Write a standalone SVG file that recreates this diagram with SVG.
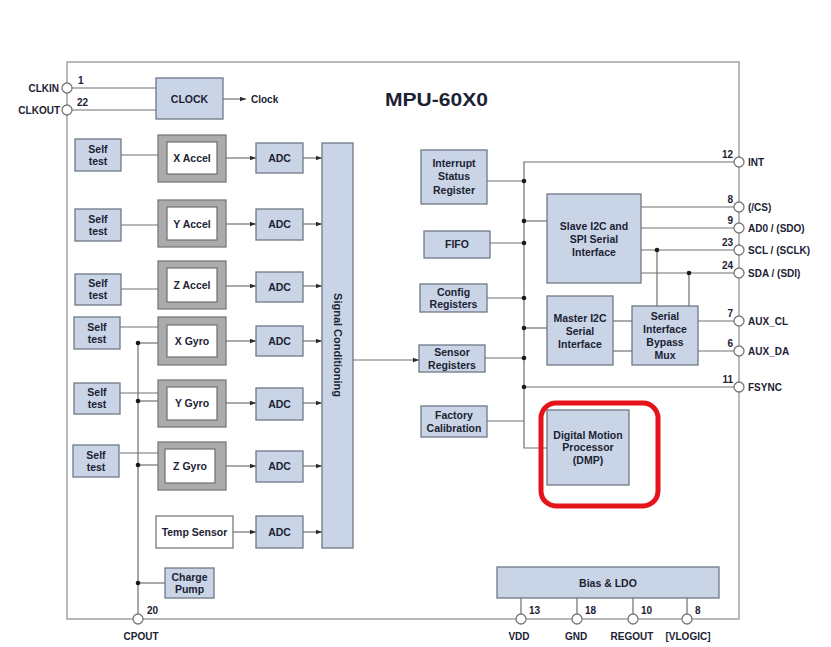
<svg xmlns="http://www.w3.org/2000/svg" width="831" height="647" viewBox="0 0 831 647">
<defs>
<marker id="arr" markerWidth="6" markerHeight="5" refX="6" refY="2.5" orient="auto" markerUnits="userSpaceOnUse">
<path d="M0,0.3 L6,2.5 L0,4.7 Z" fill="#2a2a2a"/>
</marker>
</defs>
<style>
.blk{fill:#c9d5e6;stroke:#6f7885;stroke-width:1.3}
.sen{fill:#ababab;stroke:#7a7a7a;stroke-width:1.3}
.inr{fill:#ffffff;stroke:#6f6f6f;stroke-width:1.2}
.wht{fill:#ffffff;stroke:#6f6f6f;stroke-width:1.2}
.ln{fill:none;stroke:#707070;stroke-width:1.2}
.pin{fill:#ffffff;stroke:#777777;stroke-width:1.3}
.dot{fill:#1a1a1a}
text{font-family:"Liberation Sans",Arial,sans-serif;font-weight:bold;fill:#1c2233;font-size:10.5px}
.c{text-anchor:middle}
.e{text-anchor:end}
.pn{font-size:10px}
.pl{font-size:10px}
.title{font-size:18px}
.sc{font-size:11px}
</style>
<rect width="831" height="647" fill="#ffffff"/>
<rect x="67" y="62" width="672" height="557" fill="none" stroke="#a3a3a3" stroke-width="1.5"/>
<text class="title" x="385" y="106" textLength="103" lengthAdjust="spacingAndGlyphs">MPU-60X0</text>

<g id="connectors">
<line class="ln" x1="72" y1="88" x2="156" y2="88"/>
<line class="ln" x1="72" y1="110" x2="156" y2="110"/>
<line class="ln" x1="223" y1="99" x2="246" y2="99" marker-end="url(#arr)"/>
<line class="ln" x1="121" y1="155" x2="158" y2="155"/>
<line class="ln" x1="121" y1="225" x2="158" y2="225"/>
<line class="ln" x1="121" y1="289" x2="158" y2="289"/>
<line class="ln" x1="120" y1="327" x2="158" y2="327"/>
<line class="ln" x1="120" y1="393" x2="158" y2="393"/>
<line class="ln" x1="120" y1="453" x2="158" y2="453"/>
<line class="ln" x1="138" y1="343" x2="158" y2="343"/>
<line class="ln" x1="138" y1="401" x2="158" y2="401"/>
<line class="ln" x1="138" y1="465" x2="158" y2="465"/>
<line class="ln" x1="138" y1="583" x2="165" y2="583"/>
<line class="ln" x1="138" y1="343" x2="138" y2="614"/>
<circle class="dot" cx="138" cy="343" r="2.3"/>
<circle class="dot" cx="138" cy="401" r="2.3"/>
<circle class="dot" cx="138" cy="465" r="2.3"/>
<circle class="dot" cx="138" cy="583" r="2.3"/>
<line class="ln" x1="226" y1="158" x2="256" y2="158" marker-end="url(#arr)"/>
<line class="ln" x1="226" y1="224" x2="256" y2="224" marker-end="url(#arr)"/>
<line class="ln" x1="226" y1="286" x2="256" y2="286" marker-end="url(#arr)"/>
<line class="ln" x1="226" y1="341" x2="256" y2="341" marker-end="url(#arr)"/>
<line class="ln" x1="226" y1="403" x2="256" y2="403" marker-end="url(#arr)"/>
<line class="ln" x1="226" y1="466" x2="256" y2="466" marker-end="url(#arr)"/>
<line class="ln" x1="233" y1="532" x2="256" y2="532" marker-end="url(#arr)"/>
<line class="ln" x1="303" y1="158" x2="322" y2="158" marker-end="url(#arr)"/>
<line class="ln" x1="303" y1="224" x2="322" y2="224" marker-end="url(#arr)"/>
<line class="ln" x1="303" y1="286" x2="322" y2="286" marker-end="url(#arr)"/>
<line class="ln" x1="303" y1="341" x2="322" y2="341" marker-end="url(#arr)"/>
<line class="ln" x1="303" y1="403" x2="322" y2="403" marker-end="url(#arr)"/>
<line class="ln" x1="303" y1="466" x2="322" y2="466" marker-end="url(#arr)"/>
<line class="ln" x1="303" y1="532" x2="322" y2="532" marker-end="url(#arr)"/>
<line class="ln" x1="353" y1="360" x2="419" y2="360" marker-end="url(#arr)"/>
<polyline class="ln" points="734,162 524,162 524,448 547,448"/>
<line class="ln" x1="487" y1="181" x2="524" y2="181"/>
<line class="ln" x1="524" y1="221" x2="547" y2="221"/>
<line class="ln" x1="490" y1="243" x2="524" y2="243"/>
<line class="ln" x1="487" y1="298" x2="524" y2="298"/>
<line class="ln" x1="524" y1="328" x2="547" y2="328"/>
<line class="ln" x1="485" y1="358" x2="524" y2="358"/>
<line class="ln" x1="524" y1="387" x2="734" y2="387"/>
<line class="ln" x1="487" y1="421" x2="524" y2="421"/>
<circle class="dot" cx="524" cy="181" r="2.3"/>
<circle class="dot" cx="524" cy="221" r="2.3"/>
<circle class="dot" cx="524" cy="243" r="2.3"/>
<circle class="dot" cx="524" cy="298" r="2.3"/>
<circle class="dot" cx="524" cy="328" r="2.3"/>
<circle class="dot" cx="524" cy="358" r="2.3"/>
<circle class="dot" cx="524" cy="387" r="2.3"/>
<line class="ln" x1="641" y1="207" x2="734" y2="207"/>
<line class="ln" x1="641" y1="228" x2="734" y2="228"/>
<line class="ln" x1="641" y1="250" x2="734" y2="250"/>
<line class="ln" x1="641" y1="273" x2="734" y2="273"/>
<line class="ln" x1="657" y1="250" x2="657" y2="306"/>
<line class="ln" x1="689" y1="273" x2="689" y2="306"/>
<circle class="dot" cx="657" cy="250" r="2.3"/>
<circle class="dot" cx="689" cy="273" r="2.3"/>
<line class="ln" x1="613" y1="321" x2="632" y2="321"/>
<line class="ln" x1="613" y1="351" x2="632" y2="351"/>
<line class="ln" x1="698" y1="321" x2="734" y2="321"/>
<line class="ln" x1="698" y1="351" x2="734" y2="351"/>
<line class="ln" x1="521" y1="598" x2="521" y2="614"/>
<line class="ln" x1="577" y1="598" x2="577" y2="614"/>
<line class="ln" x1="633" y1="598" x2="633" y2="614"/>
<line class="ln" x1="687" y1="598" x2="687" y2="614"/>
</g>

<g id="clock"><rect class="blk" x="156" y="78" width="67" height="41"/><text class="c" x="189.5" y="103">CLOCK</text></g>
<text class="pl" x="251" y="103">Clock</text>

<g id="selftest1"><rect class="blk" x="75" y="139" width="46" height="32"/><text class="c" x="98" y="153">Self</text><text class="c" x="98" y="165">test</text></g>
<g id="selftest2"><rect class="blk" x="75" y="209" width="46" height="32"/><text class="c" x="98" y="223">Self</text><text class="c" x="98" y="235">test</text></g>
<g id="selftest3"><rect class="blk" x="75" y="274" width="46" height="31"/><text class="c" x="98" y="287">Self</text><text class="c" x="98" y="299">test</text></g>
<g id="selftest4"><rect class="blk" x="74" y="317" width="46" height="32"/><text class="c" x="97" y="331">Self</text><text class="c" x="97" y="343">test</text></g>
<g id="selftest5"><rect class="blk" x="74" y="383" width="46" height="31"/><text class="c" x="97" y="396">Self</text><text class="c" x="97" y="408">test</text></g>
<g id="selftest6"><rect class="blk" x="73" y="445" width="46" height="32"/><text class="c" x="96" y="459">Self</text><text class="c" x="96" y="471">test</text></g>

<g id="xaccel"><rect class="sen" x="158" y="135" width="68" height="47"/><rect class="inr" x="167" y="142" width="50" height="32"/><text class="c" x="192" y="162">X Accel</text></g>
<g id="yaccel"><rect class="sen" x="158" y="200" width="68" height="47"/><rect class="inr" x="167" y="207" width="50" height="33"/><text class="c" x="192" y="228">Y Accel</text></g>
<g id="zaccel"><rect class="sen" x="158" y="261" width="68" height="48"/><rect class="inr" x="167" y="268" width="50" height="34"/><text class="c" x="192" y="289">Z Accel</text></g>
<g id="xgyro"><rect class="sen" x="158" y="317" width="68" height="48"/><rect class="inr" x="167" y="325" width="50" height="32"/><text class="c" x="192" y="345">X Gyro</text></g>
<g id="ygyro"><rect class="sen" x="158" y="380" width="68" height="47"/><rect class="inr" x="167" y="387" width="50" height="33"/><text class="c" x="192" y="407">Y Gyro</text></g>
<g id="zgyro"><rect class="sen" x="158" y="442" width="68" height="48"/><rect class="inr" x="165" y="449" width="50" height="34"/><text class="c" x="190" y="470">Z Gyro</text></g>
<g id="temp"><rect class="wht" x="156" y="516" width="77" height="32"/><text class="c" x="194.5" y="536">Temp Sensor</text></g>
<g id="chargepump"><rect class="blk" x="165" y="568" width="49" height="30"/><text class="c" x="189.5" y="581">Charge</text><text class="c" x="189.5" y="593">Pump</text></g>

<g id="adc1"><rect class="blk" x="256" y="143" width="47" height="30"/><text class="c" x="279.5" y="162">ADC</text></g>
<g id="adc2"><rect class="blk" x="256" y="209" width="47" height="31"/><text class="c" x="279.5" y="228">ADC</text></g>
<g id="adc3"><rect class="blk" x="256" y="272" width="47" height="30"/><text class="c" x="279.5" y="291">ADC</text></g>
<g id="adc4"><rect class="blk" x="256" y="326" width="47" height="30"/><text class="c" x="279.5" y="345">ADC</text></g>
<g id="adc5"><rect class="blk" x="256" y="388" width="47" height="32"/><text class="c" x="279.5" y="408">ADC</text></g>
<g id="adc6"><rect class="blk" x="256" y="451" width="47" height="31"/><text class="c" x="279.5" y="470">ADC</text></g>
<g id="adc7"><rect class="blk" x="256" y="516" width="47" height="32"/><text class="c" x="279.5" y="536">ADC</text></g>

<g id="signalcond"><rect class="blk" x="322" y="143" width="31" height="405"/><text class="c sc" transform="translate(333.5,345) rotate(90)">Signal Conditioning</text></g>

<g id="isr"><rect class="blk" x="421" y="150" width="66" height="54"/><text class="c" x="454" y="167">Interrupt</text><text class="c" x="454" y="180">Status</text><text class="c" x="454" y="194">Register</text></g>
<g id="fifo"><rect class="blk" x="424" y="231" width="66" height="27"/><text class="c" x="457" y="248">FIFO</text></g>
<g id="config"><rect class="blk" x="420" y="284" width="67" height="28"/><text class="c" x="453.5" y="296">Config</text><text class="c" x="453.5" y="308">Registers</text></g>
<g id="sensorreg"><rect class="blk" x="419" y="345" width="66" height="27"/><text class="c" x="452" y="356">Sensor</text><text class="c" x="452" y="369">Registers</text></g>
<g id="factorycal"><rect class="blk" x="421" y="406" width="66" height="31"/><text class="c" x="454" y="419">Factory</text><text class="c" x="454" y="432">Calibration</text></g>

<g id="slave"><rect class="blk" x="547" y="194" width="94" height="89"/><text class="c" x="594" y="230">Slave I2C and</text><text class="c" x="594" y="243">SPI Serial</text><text class="c" x="594" y="256">Interface</text></g>
<g id="master"><rect class="blk" x="547" y="296" width="66" height="69"/><text class="c" x="580" y="322">Master I2C</text><text class="c" x="580" y="335">Serial</text><text class="c" x="580" y="348">Interface</text></g>
<g id="mux"><rect class="blk" x="632" y="306" width="66" height="59"/><text class="c" x="665" y="320">Serial</text><text class="c" x="665" y="333">Interface</text><text class="c" x="665" y="346">Bypass</text><text class="c" x="665" y="359">Mux</text></g>
<g id="dmp"><rect class="blk" x="547" y="410" width="82" height="75"/><text class="c" x="588" y="439">Digital Motion</text><text class="c" x="588" y="451">Processor</text><text class="c" x="588" y="464">(DMP)</text></g>
<rect x="541" y="403" width="117" height="103" rx="15" fill="none" stroke="#e5141b" stroke-width="5"/>
<g id="bias"><rect class="blk" x="497" y="567" width="222" height="31"/><text class="c" x="608" y="587">Bias &amp; LDO</text></g>

<g id="pin-clkin"><circle class="pin" cx="67" cy="88" r="5"/><text class="e pl" x="59" y="92">CLKIN</text><text class="pn" x="78" y="84">1</text></g>
<g id="pin-clkout"><circle class="pin" cx="67" cy="110" r="5"/><text class="e pl" x="60" y="114">CLKOUT</text><text class="pn" x="77" y="106">22</text></g>
<g id="pin-cpout"><circle class="pin" cx="138" cy="619" r="5"/><text class="pn" x="147" y="614">20</text><text class="c pl" x="141" y="640">CPOUT</text></g>
<g id="pin-int"><circle class="pin" cx="739" cy="162" r="5"/><text class="e pn" x="733" y="158">12</text><text class="pl" x="748" y="166">INT</text></g>
<g id="pin-cs"><circle class="pin" cx="739" cy="207" r="5"/><text class="e pn" x="733" y="203">8</text><text class="pl" x="748" y="211">(/CS)</text></g>
<g id="pin-ad0"><circle class="pin" cx="739" cy="228" r="5"/><text class="e pn" x="733" y="224">9</text><text class="pl" x="748" y="232">AD0 / (SDO)</text></g>
<g id="pin-scl"><circle class="pin" cx="739" cy="250" r="5"/><text class="e pn" x="733" y="246">23</text><text class="pl" x="748" y="254">SCL / (SCLK)</text></g>
<g id="pin-sda"><circle class="pin" cx="739" cy="273" r="5"/><text class="e pn" x="733" y="269">24</text><text class="pl" x="748" y="277">SDA / (SDI)</text></g>
<g id="pin-auxcl"><circle class="pin" cx="739" cy="321" r="5"/><text class="e pn" x="733" y="317">7</text><text class="pl" x="748" y="325">AUX_CL</text></g>
<g id="pin-auxda"><circle class="pin" cx="739" cy="351" r="5"/><text class="e pn" x="733" y="347">6</text><text class="pl" x="748" y="355">AUX_DA</text></g>
<g id="pin-fsync"><circle class="pin" cx="739" cy="387" r="5"/><text class="e pn" x="733" y="383">11</text><text class="pl" x="748" y="391">FSYNC</text></g>
<g id="pin-vdd"><circle class="pin" cx="521" cy="619" r="5"/><text class="pn" x="529" y="614">13</text><text class="c pl" x="519" y="640">VDD</text></g>
<g id="pin-gnd"><circle class="pin" cx="577" cy="619" r="5"/><text class="pn" x="585" y="614">18</text><text class="c pl" x="576" y="640">GND</text></g>
<g id="pin-regout"><circle class="pin" cx="633" cy="619" r="5"/><text class="pn" x="641" y="614">10</text><text class="c pl" x="632" y="640">REGOUT</text></g>
<g id="pin-vlogic"><circle class="pin" cx="687" cy="619" r="5"/><text class="pn" x="695" y="614">8</text><text class="c pl" x="688" y="640">[VLOGIC]</text></g>
</svg>
